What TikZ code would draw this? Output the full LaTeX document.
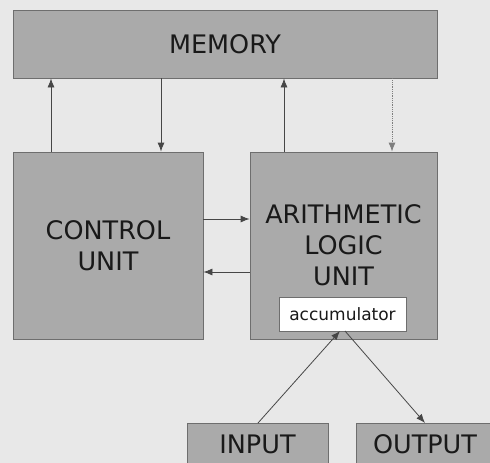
\documentclass[tikz,border=0pt]{standalone}
\usepackage{fontspec}
\setmainfont{DejaVu Sans}
\usetikzlibrary{arrows.meta,calc}
\definecolor{bgc}{RGB}{232,232,232}
\definecolor{boxc}{RGB}{170,170,170}
\definecolor{edgec}{RGB}{110,110,110}
\definecolor{linec}{RGB}{70,70,70}
\begin{document}
\begin{tikzpicture}[x=1pt,y=-1pt,
  unitbox/.style={draw=edgec,fill=boxc,line width=0.8pt,inner sep=0pt,align=center,
    font=\fontsize{25.5}{31}\selectfont,text=black!90},
  accbox/.style={draw=edgec,fill=white,line width=0.8pt,inner sep=0pt,
    font=\fontsize{17}{20}\selectfont,text=black!90},
  arr/.style={draw=linec,line width=0.8pt,-{Latex[length=9pt,width=7pt]}},
  dotarr/.style={draw=linec!70,line width=0.8pt,densely dotted,-{Latex[length=9pt,width=7pt]}}]
\useasboundingbox (0,0) rectangle (490,463);
\fill[bgc] (0,0) rectangle (490,463);
\clip (0,0) rectangle (490,463);
\node[unitbox,minimum width=424pt,minimum height=68pt] (mem) at (225,44) {MEMORY};
\node[unitbox,minimum width=190pt,minimum height=187pt] (cu) at (108,245.5) {CONTROL\\UNIT};
\node[unitbox,minimum width=187pt,minimum height=187pt] (alu) at (343.5,245.5) {};
\node[align=center,font=\fontsize{25.5}{31}\selectfont,text=black!90] (alutxt) at (343.5,245) {ARITHMETIC\\LOGIC\\UNIT};
\node[accbox,minimum width=127pt,minimum height=34pt] (acc) at (342.5,314) {accumulator};
\node[unitbox,minimum width=141pt,minimum height=44pt,anchor=north west] (inp) at (187,423) {};
\node[font=\fontsize{25.5}{31}\selectfont,text=black!90] (inptxt) at (257.5,444) {INPUT};
\node[unitbox,minimum width=138pt,minimum height=44pt,anchor=north west] (out) at (356,423) {};
\node[font=\fontsize{25.5}{31}\selectfont,text=black!90] (outtxt) at (425,444) {OUTPUT};
\coordinate (c1) at (51,0);
\coordinate (c2) at (161,0);
\coordinate (c3) at (284,0);
\coordinate (c4) at (392,0);
\coordinate (r1) at (0,219);
\coordinate (r2) at (0,272);
\coordinate (ai) at (340,331);
\coordinate (ao) at (345,331);
\coordinate (ip) at (258,423);
\coordinate (op) at (425,423);
\draw[arr] (cu.north -| c1) -- (mem.south -| c1);
\draw[arr] (mem.south -| c2) -- (cu.north -| c2);
\draw[arr] (alu.north -| c3) -- (mem.south -| c3);
\draw[dotarr] (mem.south -| c4) -- (alu.north -| c4);
\draw[arr] (cu.east |- r1) -- (alu.west |- r1);
\draw[arr] (alu.west |- r2) -- (cu.east |- r2);
\draw[arr] (ip) -- (ai);
\draw[arr] (ao) -- (op);
\end{tikzpicture}
\end{document}
